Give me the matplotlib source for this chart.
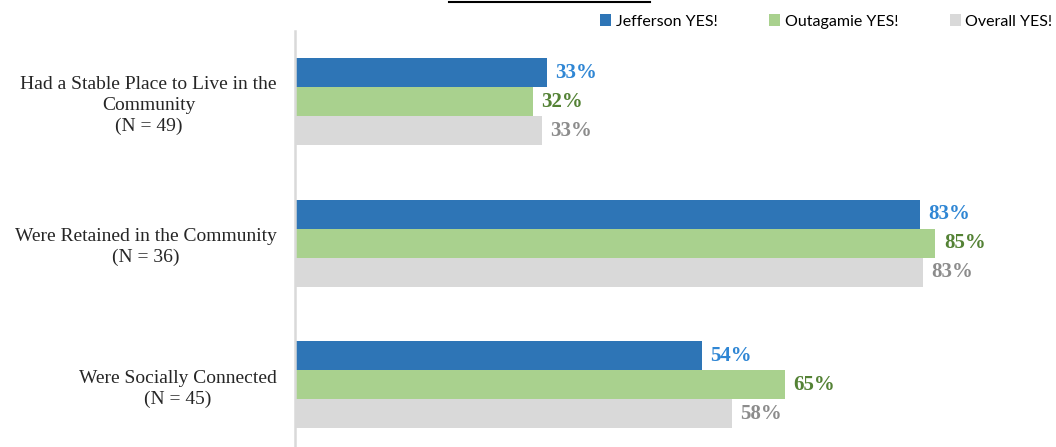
import matplotlib
matplotlib.use("Agg")
import matplotlib.pyplot as plt
from matplotlib.patches import Patch
from matplotlib.lines import Line2D
import numpy as np

categories = ["Had a Stable Place to Live in the\nCommunity\n(N = 49)",
              "Were Retained in the Community\n(N = 36)",
              "Were Socially Connected\n(N = 45)"]
series_names = ["Jefferson YES!", "Outagamie YES!", "Overall YES!"]
jefferson = [33.4, 83.0, 54.0]
outagamie = [31.6, 85.0, 65.0]
overall = [32.8, 83.4, 58.0]

bar_colors = ["#2e75b6", "#a9d18e", "#d9d9d9"]
label_colors = ["#2f86d4", "#548235", "#8c8c8c"]

W, H = 1056, 447
fig = plt.figure(figsize=(W / 100, H / 100), dpi=100)
ax = fig.add_axes([295 / W, 0.0, 1 - 295 / W, 1 - 31 / H])

y = np.arange(len(categories))
h = 0.205
for i, (vals, c, lc) in enumerate(zip([jefferson, outagamie, overall], bar_colors, label_colors)):
    pos = y + (i - 1) * h
    ax.barh(pos, vals, height=h, color=c, edgecolor="none")
    for p, v in zip(pos, vals):
        ax.annotate(f"{round(v)}%", xy=(v, p), xytext=(6, 0), textcoords="offset points",
                    ha="left", va="center", fontsize=15, fontweight="bold",
                    color=lc, family="Liberation Serif")

ax.set_xlim(0, 101)
ax.set_ylim(2.44, -0.5)
ax.set_yticks(y)
ax.set_yticklabels(categories, family="Liberation Serif", fontsize=14,
                   color="#262626", multialignment="center", linespacing=1.3)
ax.tick_params(axis="y", length=0, pad=13)
ax.set_xticks([])
for s in ["top", "right", "bottom"]:
    ax.spines[s].set_visible(False)
ax.spines["left"].set_color("#d9d9d9")
ax.spines["left"].set_linewidth(1.8)

handles = [Patch(facecolor=c, edgecolor="none") for c in bar_colors]
fig.legend(handles, series_names, loc="upper right",
           bbox_to_anchor=(1 + 3 / W, 1 - 8 / H),
           ncol=3, frameon=False, handlelength=0.7, handleheight=0.7,
           handletextpad=0.3, columnspacing=3.2, borderaxespad=0.0, borderpad=0.4,
           prop={"family": "Lato", "size": 11.5})

fig.add_artist(Line2D([449 / W, 650 / W], [1 - 1.5 / H, 1 - 1.5 / H],
                      color="black", linewidth=1.5, transform=fig.transFigure))

fig.savefig("out.png", dpi=100)
